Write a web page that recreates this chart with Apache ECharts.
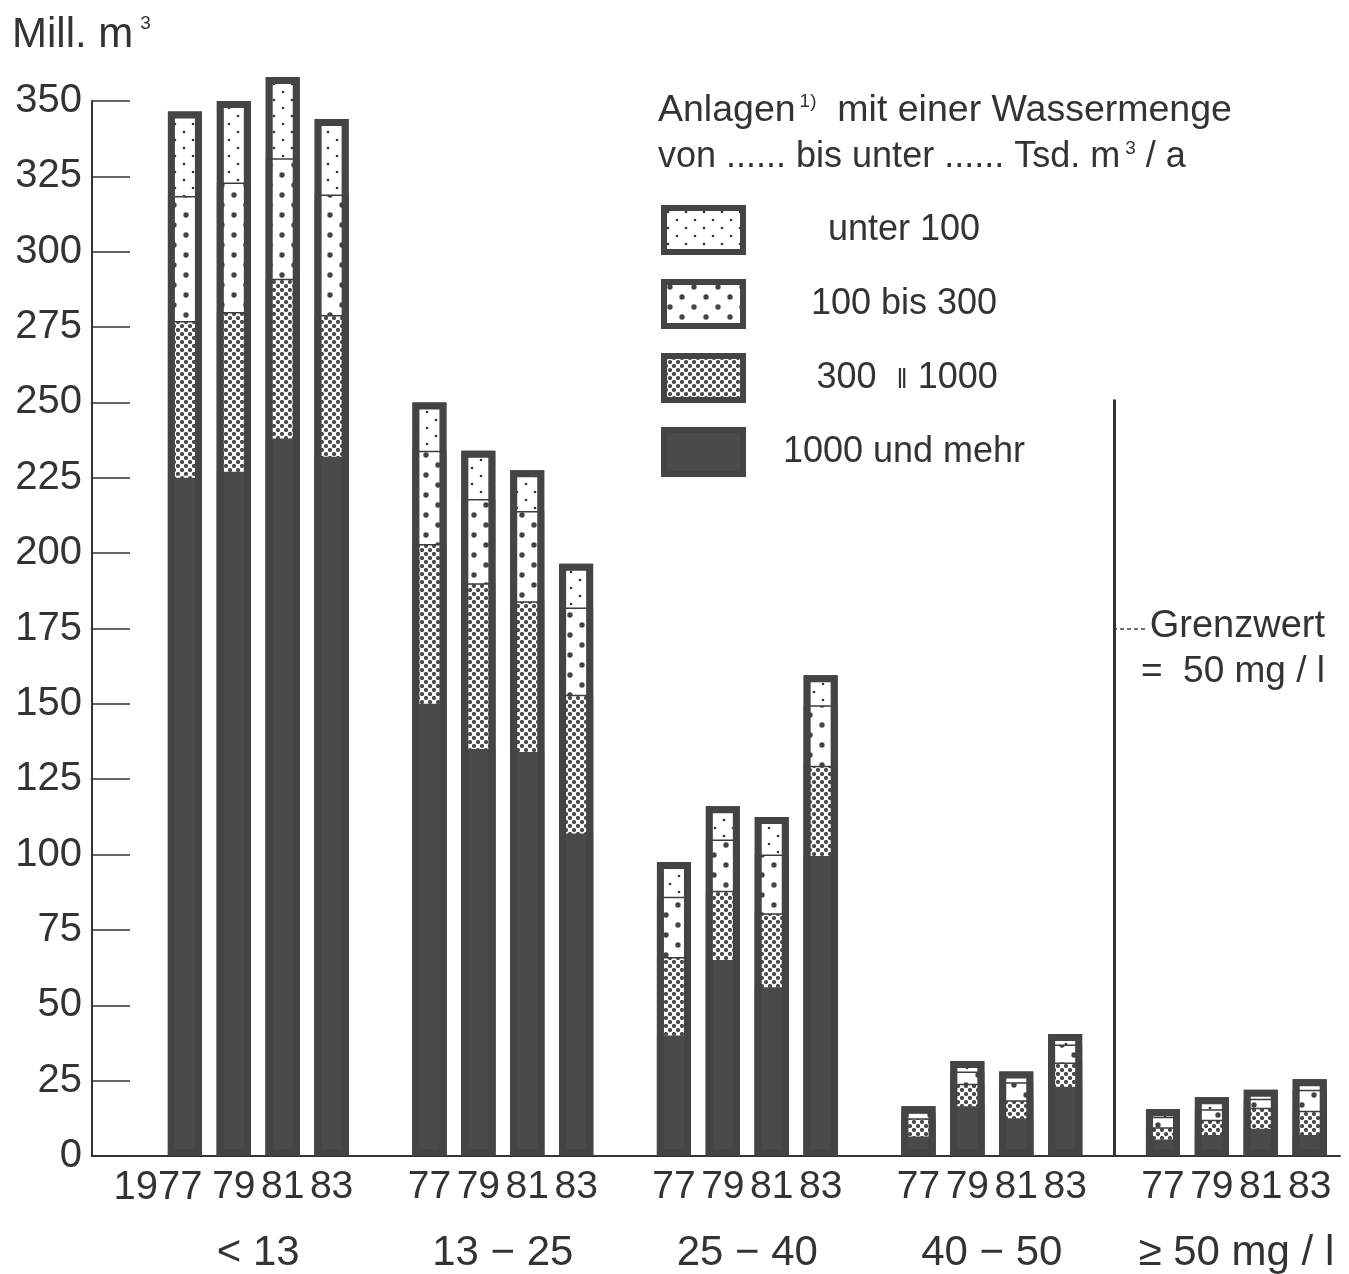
<!DOCTYPE html>
<html><head><meta charset="utf-8">
<script src="https://cdn.jsdelivr.net/npm/echarts@6/dist/echarts.min.js"></script>
<style>html,body{margin:0;padding:0;background:#fff}#c{width:1349px;height:1274px}</style>
</head><body><div id="c"></div>
<script>
// ---- data ----
const groupLabels = ['< 13', '13 − 25', '25 − 40', '40 − 50', '≥ 50 mg / l'];
const yearLabels = ['77', '79', '81', '83'];
const firstYearLabel = '1977';
const legendNames = ['unter 100', '100 bis 300', '300 ‖ 1000', '1000 und mehr'];
const yTickValues = [0, 25, 50, 75, 100, 125, 150, 175, 200, 225, 250, 275, 300, 325, 350];
// Mill. m3 per size class (bottom to top of each stack)
const over1000 = [225, 227, 238, 232, 150, 135, 134, 107, 40, 65, 56, 99.5, 6.5, 16.5, 12.5, 23, 5.5, 7, 9, 7];
const from300 = [52, 53, 53, 47, 53, 55, 50, 46, 26, 23, 24.5, 30, 6, 7.5, 6, 8, 4, 5, 7, 8];
const from100 = [41.5, 43, 40, 40, 31, 28, 30, 29, 20, 17, 19.5, 20, 2, 4, 6, 6, 3.5, 3.5, 3, 7];
const under100 = [28, 27, 27, 25, 16, 16, 13.5, 14.5, 11.5, 11, 12.5, 10, 2, 3.5, 3.5, 3.5, 2.5, 4, 3, 3.5];
const limitLineTop = 251; // Grenzwert divider height

// ---- layout helpers ----
const FONT = '"Liberation Sans", Arial, Helvetica, sans-serif';
const TXT = '#333';
const DARK = '#4a4a4a';
const pos = over1000.map((_, i) => Math.floor(i / 4) * 5 + (i % 4));
const groupCenters = groupLabels.map((_, g) => g * 5 + 1.5);
const limitPos = 19;
// cumulative stack tops (each layer drawn from 0, upper layers behind)
const top1 = over1000.slice();
const top2 = top1.map((v, i) => v + from300[i]);
const top3 = top2.map((v, i) => v + from100[i]);
const top4 = top3.map((v, i) => v + under100[i]);
const pair = arr => arr.map((v, i) => [pos[i], v]);

function dots(w, h, pts, r, col) {
  const c = document.createElement('canvas');
  c.width = w; c.height = h;
  const g = c.getContext('2d');
  g.fillStyle = '#fff'; g.fillRect(0, 0, w, h);
  g.fillStyle = col;
  pts.forEach(p => { g.beginPath(); g.arc(p[0], p[1], r, 0, Math.PI * 2); g.fill(); });
  return c;
}
const patLight = { image: dots(18, 16, [[4, 4], [13, 12]], 1.3, '#333'), repeat: 'repeat' };
const patMed = { image: dots(24, 20, [[6, 5], [18, 15]], 2.7, '#444'), repeat: 'repeat' };
const patDense = { image: dots(8, 8, [[2, 2], [6, 6]], 2.1, '#4a4a4a'), repeat: 'repeat' };

// legend text centring
const mctx = document.createElement('canvas').getContext('2d');
mctx.font = '36px ' + FONT;
const legendRich = {};
legendNames.forEach((n, i) => {
  const w = mctx.measureText(n).width;
  legendRich['sp' + i] = { width: Math.max(0, 156 - w / 2), fontSize: 36 };
});
legendRich.t = { fontSize: 36, fontFamily: FONT, color: TXT };
legendRich.m = { fontSize: 27, fontFamily: FONT, color: TXT, padding: [5, 0, 0, 0] };

const chart = echarts.init(document.getElementById('c'));
const barW = 34;
function layer(name, arr, color, bw, z) {
  return {
    type: 'bar', name, data: pair(arr), barWidth: barW, barGap: '-100%',
    clip: false, silent: true, z,
    itemStyle: { color, borderColor: '#3d3d3d', borderWidth: bw }
  };
}

chart.setOption({
  backgroundColor: '#fff',
  animation: false,
  grid: { left: 92, right: 9, top: 101, bottom: 117, containLabel: false },
  xAxis: [
    {
      type: 'value', min: -1.9, max: 23.62,
      axisLine: { show: true, onZero: false, lineStyle: { color: '#333', width: 2 } },
      axisTick: { show: false }, splitLine: { show: false },
      axisLabel: {
        customValues: pos,
        margin: 12, fontSize: 39, fontFamily: FONT, color: TXT,
        formatter: v => {
          const i = pos.indexOf(v);
          if (i === 0) return '{f|' + firstYearLabel + '}';
          return yearLabels[i % 4];
        },
        rich: { f: { fontSize: 40, fontFamily: FONT, color: TXT, padding: [0, 54, 0, 0] } }
      }
    },
    {
      type: 'value', min: -1.9, max: 23.62, position: 'bottom',
      axisLine: { show: false, onZero: false }, axisTick: { show: false }, splitLine: { show: false },
      axisLabel: {
        customValues: groupCenters,
        margin: 76, fontSize: 42, fontFamily: FONT, color: TXT,
        formatter: v => groupLabels[groupCenters.indexOf(v)]
      }
    }
  ],
  yAxis: {
    type: 'value', min: 0, max: 350, interval: 25, position: 'left',
    axisLine: { show: true, onZero: false, lineStyle: { color: '#333', width: 2 } },
    axisTick: { show: true, inside: true, length: 38, lineStyle: { color: '#333', width: 1.5 } },
    splitLine: { show: false },
    axisLabel: { fontSize: 40, fontFamily: FONT, color: TXT, margin: 10 }
  },
  legend: {
    data: legendNames, orient: 'vertical', left: 661, top: 205, padding: 0,
    itemWidth: 79, itemHeight: 44, itemGap: 24, icon: 'rect', selectedMode: false,
    itemStyle: { borderColor: '#444', borderWidth: 6 },
    textStyle: { fontSize: 36, fontFamily: FONT, color: TXT, rich: legendRich },
    formatter: n => {
      const i = legendNames.indexOf(n);
      if (n.indexOf('‖') >= 0) {
        const parts = n.split('‖');
        return '{sp' + i + '|}{t|' + parts[0] + ' }{m|‖}{t|' + parts[1] + '}';
      }
      return '{sp' + i + '|}{t|' + n + '}';
    }
  },
  series: [
    layer(legendNames[0], top4, patLight, 1.5, 2),
    layer(legendNames[1], top3, patMed, 1.5, 3),
    layer(legendNames[2], top2, patDense, 1.5, 4),
    layer(legendNames[3], top1, DARK, 0, 5),
    {
      type: 'bar', name: 'outline', data: pair(top4), barWidth: barW, barGap: '-100%',
      clip: false, silent: true, z: 6,
      itemStyle: { color: 'rgba(0,0,0,0)', borderColor: '#444', borderWidth: 7 },
      markLine: {
        silent: true, symbol: ['none', 'none'], label: { show: false },
        lineStyle: { color: '#333', width: 3, type: 'solid' },
        data: [[{ coord: [limitPos, 0] }, { coord: [limitPos, limitLineTop] }]]
      }
    }
  ],
  graphic: [
    {
      type: 'text', left: 12, top: 14,
      style: {
        text: '{a|Mill. m}{s|3}', fill: TXT,
        rich: { a: { fontSize: 42, fontFamily: FONT, color: TXT }, s: { fontSize: 19, fontFamily: FONT, color: TXT, verticalAlign: 'top', padding: [0, 0, 0, 7] } }
      }
    },
    {
      type: 'text', left: 658, top: 92,
      style: {
        text: '{a|Anlagen}{s|1)}{a|  mit einer Wassermenge}', fill: TXT,
        rich: { a: { fontSize: 37.5, fontFamily: FONT, color: TXT }, s: { fontSize: 19, fontFamily: FONT, color: TXT, verticalAlign: 'top', padding: [0, 0, 0, 4] } }
      }
    },
    {
      type: 'text', left: 658, top: 139,
      style: {
        text: '{a|von ...... bis unter ...... Tsd. m}{s|3}{a| / a}', fill: TXT,
        rich: { a: { fontSize: 36, fontFamily: FONT, color: TXT }, s: { fontSize: 19, fontFamily: FONT, color: TXT, verticalAlign: 'top', padding: [0, 0, 0, 5] } }
      }
    },
    {
      type: 'line', shape: { x1: 1113, y1: 629, x2: 1146, y2: 629 },
      style: { stroke: '#444', lineWidth: 1.5, lineDash: [4, 3] }
    },
    {
      type: 'text', right: 24, top: 608,
      style: { text: 'Grenzwert', fontSize: 38, fontFamily: FONT, fill: TXT }
    },
    {
      type: 'text', right: 24, top: 653,
      style: { text: '=  50 mg / l', fontSize: 37, fontFamily: FONT, fill: TXT }
    }
  ]
});
</script>
</body></html>
